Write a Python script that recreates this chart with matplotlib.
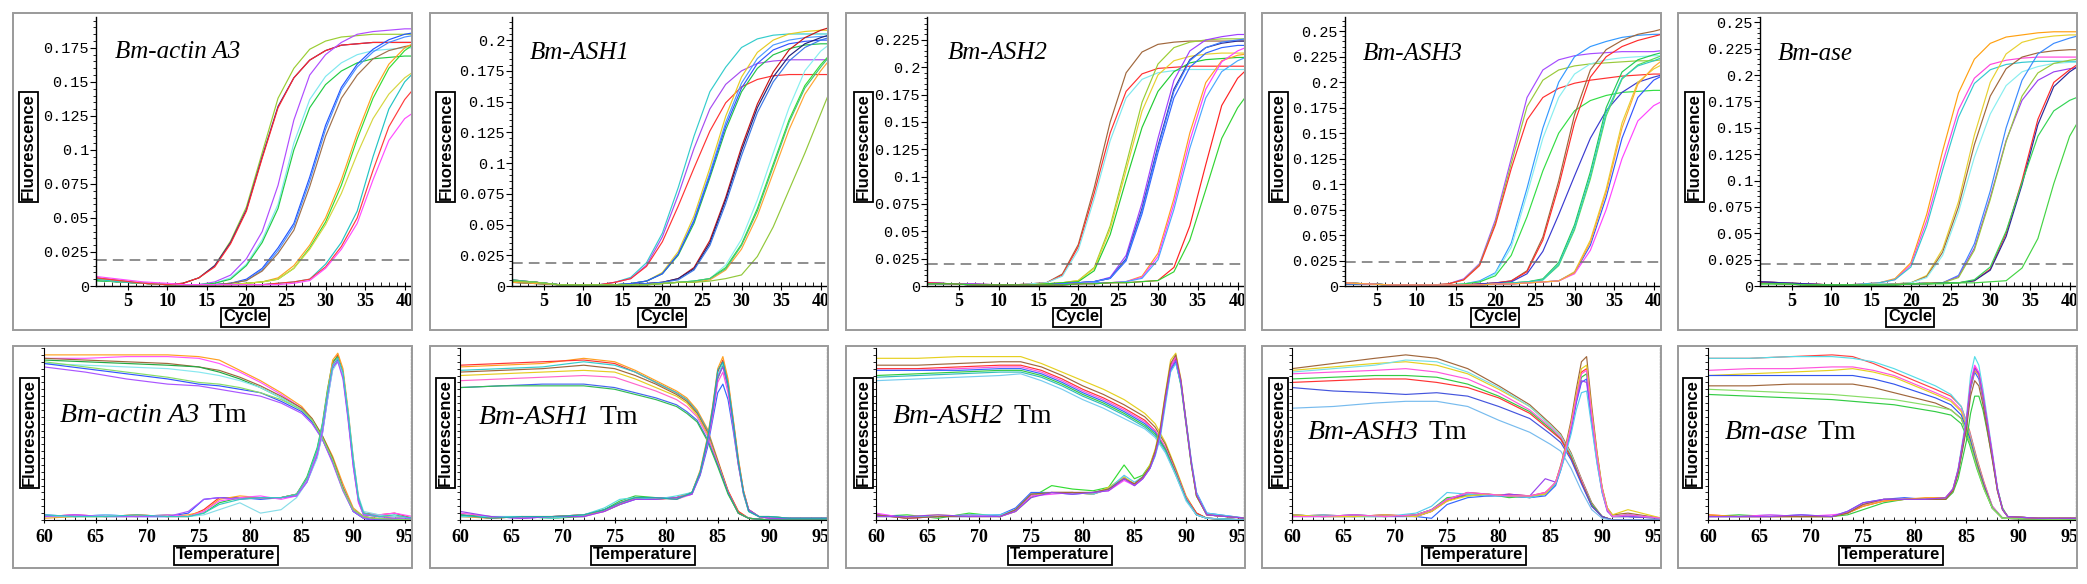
import matplotlib
matplotlib.use('Agg')
import matplotlib.pyplot as plt
from matplotlib.patches import Rectangle
from matplotlib.ticker import MultipleLocator
from matplotlib.transforms import Bbox, TransformedBbox

W, H = 2087, 584

genes = ['Bm-actin A3', 'Bm-ASH1', 'Bm-ASH2', 'Bm-ASH3', 'Bm-ase']

# ---- amplification plots (fluorescence in units of 0.001) ----
cycles = [1, 4, 7, 10, 12, 14, 16, 18, 20, 22, 24, 26, 28, 30, 32, 34, 36, 38, 40, 41]

actin_amp = [
    [4, 3, 2, 1, 2, 6, 15, 33, 58, 98, 138, 160, 174, 180, 183, 184, 185, 185, 185, 185],
    [5, 3, 2, 1, 2, 6, 15, 32, 56, 95, 132, 153, 166, 173, 177, 178, 179, 179, 179, 179],
    [6, 4, 2, 1, 2, 6, 14, 31, 55, 94, 131, 153, 166, 173, 177, 178, 179, 179, 179, 179],
    [5, 3, 2, 1, 1, 1, 3, 8, 20, 40, 74, 122, 155, 170, 179, 185, 187, 188, 189, 189],
    [6, 4, 2, 1, 1, 1, 2, 6, 16, 34, 60, 105, 137, 154, 164, 170, 173, 174, 175, 175],
    [4, 3, 2, 1, 1, 1, 2, 5, 15, 32, 57, 100, 131, 148, 158, 164, 167, 168, 169, 169],
    [5, 3, 2, 1, 1, 1, 1, 2, 5, 13, 28, 46, 80, 118, 146, 163, 174, 181, 185, 186],
    [4, 3, 2, 1, 1, 1, 1, 2, 4, 12, 26, 44, 77, 115, 144, 161, 172, 179, 183, 184],
    [6, 4, 2, 1, 1, 1, 1, 2, 4, 11, 24, 41, 73, 110, 138, 155, 167, 173, 176, 177],
    [5, 3, 2, 1, 1, 1, 1, 1, 2, 3, 6, 15, 30, 50, 78, 112, 142, 163, 175, 178],
    [4, 3, 2, 1, 1, 1, 1, 1, 2, 3, 5, 13, 28, 47, 74, 108, 138, 160, 173, 177],
    [5, 3, 2, 1, 1, 1, 1, 1, 2, 3, 5, 13, 27, 45, 68, 97, 123, 141, 153, 157],
    [5, 3, 2, 1, 1, 1, 1, 1, 1, 1, 2, 3, 5, 16, 32, 55, 95, 130, 150, 156],
    [6, 4, 2, 1, 1, 1, 1, 1, 1, 1, 2, 3, 5, 14, 29, 50, 85, 117, 137, 144],
    [7, 5, 3, 2, 1, 1, 1, 1, 1, 1, 1, 2, 4, 13, 27, 46, 78, 107, 123, 127],
]
actin_amp_colors = ['#9acd32', '#3a1f8f', '#ff2a2a', '#b04cff', '#7fe8f0', '#22cc44', '#2255ff', '#4a8cff',
                    '#a0704a', '#ffa21f', '#33dd33', '#d6d640', '#22c4c4', '#ff3b3b', '#ff4cff']

ash1_amp = [
    [4, 3, 1, 1, 1, 3, 7, 19, 43, 80, 122, 158, 178, 194, 201, 204, 205, 205, 205, 205],
    [5, 3, 1, 1, 1, 3, 6, 17, 40, 74, 112, 144, 164, 175, 181, 183, 184, 184, 184, 184],
    [4, 3, 1, 1, 1, 3, 6, 16, 36, 65, 96, 126, 149, 162, 168, 171, 172, 172, 172, 172],
    [5, 3, 1, 1, 1, 1, 2, 4, 11, 28, 57, 96, 138, 170, 190, 200, 205, 207, 208, 208],
    [4, 3, 1, 1, 1, 1, 2, 4, 10, 26, 54, 92, 133, 165, 185, 196, 200, 202, 203, 203],
    [3, 2, 1, 1, 1, 1, 2, 4, 10, 25, 51, 88, 127, 158, 177, 188, 193, 196, 197, 197],
    [4, 3, 1, 1, 1, 1, 2, 4, 10, 26, 53, 90, 130, 161, 181, 192, 197, 199, 200, 200],
    [4, 3, 1, 1, 1, 1, 1, 2, 3, 6, 15, 37, 72, 113, 148, 174, 192, 202, 208, 210],
    [3, 2, 1, 1, 1, 1, 1, 2, 3, 6, 14, 35, 70, 110, 145, 170, 187, 197, 202, 204],
    [5, 3, 1, 1, 1, 1, 1, 2, 3, 5, 13, 33, 67, 106, 141, 166, 183, 194, 200, 202],
    [4, 3, 1, 1, 1, 1, 1, 1, 2, 3, 4, 6, 17, 38, 70, 108, 145, 175, 191, 196],
    [4, 3, 1, 1, 1, 1, 1, 1, 2, 3, 4, 6, 15, 34, 63, 99, 135, 163, 180, 187],
    [3, 2, 1, 1, 1, 1, 1, 1, 2, 3, 3, 5, 13, 30, 57, 92, 127, 156, 175, 183],
    [5, 3, 1, 1, 1, 1, 1, 1, 2, 3, 4, 6, 14, 33, 61, 97, 133, 161, 178, 186],
    [4, 3, 1, 1, 1, 1, 1, 1, 2, 3, 3, 4, 6, 9, 24, 48, 78, 108, 140, 156],
]
ash1_amp_colors = ['#33cccc', '#a64cf0', '#ff3333', '#e6cc22', '#4d99ff', '#22c24a', '#3355ff', '#c81414',
                   '#22227a', '#3a78e8', '#88f0f0', '#33e033', '#ffa533', '#44c47a', '#92c83a']

ash2_amp = [
    [3, 2, 2, 1, 1, 2, 3, 11, 38, 90, 150, 195, 214, 221, 223, 224, 224, 224, 224, 224],
    [2, 2, 1, 1, 1, 2, 3, 10, 36, 85, 140, 178, 194, 199, 200, 201, 201, 201, 201, 201],
    [3, 2, 1, 1, 1, 2, 3, 9, 33, 80, 133, 172, 189, 195, 197, 198, 198, 198, 198, 198],
    [3, 2, 1, 1, 1, 1, 2, 3, 5, 17, 55, 111, 168, 203, 218, 223, 225, 226, 226, 226],
    [3, 2, 1, 1, 1, 1, 2, 3, 5, 16, 52, 106, 160, 193, 206, 210, 212, 213, 213, 213],
    [2, 2, 1, 1, 1, 1, 2, 3, 4, 14, 47, 97, 145, 178, 196, 204, 207, 208, 209, 209],
    [3, 2, 2, 1, 1, 1, 1, 2, 3, 4, 8, 28, 76, 135, 188, 215, 225, 228, 230, 230],
    [2, 2, 1, 1, 1, 1, 1, 2, 3, 4, 7, 25, 71, 128, 180, 207, 218, 222, 224, 224],
    [3, 2, 1, 1, 1, 1, 1, 2, 3, 4, 7, 23, 66, 122, 172, 200, 213, 218, 220, 220],
    [3, 2, 1, 1, 1, 1, 1, 2, 3, 4, 7, 24, 69, 126, 178, 206, 218, 223, 225, 226],
    [2, 2, 1, 1, 1, 1, 1, 1, 2, 3, 3, 4, 9, 30, 80, 140, 186, 206, 211, 212],
    [3, 2, 1, 1, 1, 1, 1, 1, 2, 3, 3, 4, 8, 27, 75, 133, 180, 205, 215, 218],
    [2, 2, 1, 1, 1, 1, 1, 1, 2, 3, 3, 4, 7, 24, 70, 126, 172, 196, 206, 209],
    [3, 2, 1, 1, 1, 1, 1, 1, 2, 2, 3, 3, 4, 5, 17, 55, 111, 165, 190, 197],
    [2, 2, 1, 1, 1, 1, 1, 1, 2, 2, 3, 3, 4, 5, 13, 42, 88, 135, 163, 173],
]
ash2_amp_colors = ['#a0673c', '#ff3030', '#7fe8ee', '#9acd32', '#e8d030', '#22cc33', '#a040ff', '#2a2a9a',
                   '#3366ff', '#4080ff', '#ffa020', '#ff40ff', '#4aa8ff', '#ff2222', '#33d433']

ash3_amp = [
    [3, 2, 1, 1, 1, 2, 7, 22, 65, 125, 185, 212, 222, 226, 228, 229, 230, 230, 230, 231],
    [3, 2, 1, 1, 1, 2, 6, 21, 62, 120, 176, 202, 212, 216, 218, 219, 220, 221, 221, 222],
    [2, 2, 1, 1, 1, 2, 6, 20, 60, 115, 163, 185, 194, 199, 202, 204, 206, 207, 208, 208],
    [3, 2, 1, 1, 1, 1, 2, 5, 13, 42, 96, 155, 200, 225, 235, 240, 244, 246, 247, 247],
    [2, 2, 1, 1, 1, 1, 2, 4, 12, 38, 90, 145, 185, 208, 218, 222, 224, 225, 226, 226],
    [3, 2, 1, 1, 1, 1, 2, 4, 10, 30, 68, 113, 150, 172, 182, 187, 190, 191, 192, 192],
    [3, 2, 1, 1, 1, 1, 1, 2, 3, 5, 15, 48, 103, 168, 212, 232, 241, 247, 250, 252],
    [3, 2, 1, 1, 1, 1, 1, 2, 3, 5, 14, 45, 98, 160, 205, 225, 235, 241, 245, 247],
    [2, 2, 1, 1, 1, 1, 1, 2, 3, 4, 12, 34, 70, 108, 145, 172, 190, 200, 205, 207],
    [3, 2, 1, 1, 1, 1, 1, 1, 2, 3, 4, 7, 23, 60, 112, 175, 210, 222, 227, 229],
    [2, 2, 1, 1, 1, 1, 1, 1, 2, 3, 4, 6, 20, 55, 105, 167, 203, 217, 223, 226],
    [3, 2, 1, 1, 1, 1, 1, 1, 2, 3, 4, 6, 21, 57, 108, 170, 204, 216, 221, 224],
    [3, 2, 1, 1, 1, 1, 1, 1, 2, 2, 3, 4, 5, 14, 45, 95, 160, 200, 213, 217],
    [2, 2, 1, 1, 1, 1, 1, 1, 2, 2, 3, 4, 5, 13, 40, 87, 145, 185, 202, 206],
    [3, 2, 1, 1, 1, 1, 1, 1, 2, 2, 3, 4, 5, 12, 35, 75, 125, 162, 177, 181],
    [3, 2, 1, 1, 1, 1, 1, 1, 2, 2, 3, 4, 5, 13, 43, 92, 155, 198, 215, 221],
]
ash3_amp_colors = ['#a64cff', '#99c93a', '#ff3030', '#3399ff', '#88eef0', '#33dd44', '#a0673c', '#ff2a2a',
                   '#3a3ad0', '#22cc55', '#55e055', '#33c8c0', '#e6d030', '#3355ff', '#ff44ff', '#ffaa33']

ase_amp = [
    [4, 3, 2, 1, 1, 2, 3, 7, 22, 68, 128, 183, 215, 230, 236, 238, 240, 241, 241, 241],
    [3, 2, 2, 1, 1, 2, 3, 6, 20, 62, 117, 167, 197, 210, 214, 216, 217, 217, 217, 217],
    [3, 2, 1, 1, 1, 2, 3, 6, 18, 57, 110, 160, 192, 205, 210, 212, 213, 213, 213, 213],
    [3, 2, 2, 1, 1, 1, 2, 2, 3, 10, 35, 80, 143, 193, 220, 231, 235, 237, 238, 238],
    [4, 3, 2, 1, 1, 1, 2, 2, 3, 9, 32, 75, 134, 180, 206, 217, 221, 223, 224, 224],
    [3, 2, 1, 1, 1, 1, 2, 2, 3, 8, 29, 70, 122, 163, 190, 203, 208, 211, 212, 212],
    [3, 2, 1, 1, 1, 1, 1, 2, 2, 3, 3, 10, 40, 90, 150, 195, 220, 230, 235, 237],
    [4, 3, 2, 1, 1, 1, 1, 2, 2, 3, 3, 9, 36, 84, 138, 176, 195, 203, 206, 207],
    [3, 2, 1, 1, 1, 1, 1, 2, 2, 3, 3, 8, 34, 82, 137, 180, 202, 211, 214, 215],
    [3, 2, 1, 1, 1, 1, 1, 1, 2, 2, 3, 3, 5, 16, 50, 100, 158, 193, 205, 210],
    [4, 3, 2, 1, 1, 1, 1, 1, 2, 2, 3, 3, 5, 15, 47, 96, 153, 189, 203, 208],
    [2, 2, 1, 1, 1, 1, 1, 1, 2, 2, 3, 3, 6, 18, 52, 98, 142, 166, 176, 179],
    [2, 2, 1, 1, 1, 1, 1, 1, 2, 2, 2, 3, 3, 4, 5, 17, 45, 97, 142, 155],
]
ase_amp_colors = ['#ffa010', '#ff44dd', '#33c8d0', '#e8d030', '#a0673c', '#88eef0', '#3a8aff', '#9a40f0',
                  '#99c93a', '#ff2a2a', '#2a2a9a', '#33d455', '#44d444']

thresholds = [19, 19, 20, 24, 21]
amp_ymax = [197.7, 218.8, 246, 264, 255]
ytick_vals = [0, 25, 50, 75, 100, 125, 150, 175, 200, 225, 250]
ytick_text = ['0', '0.025', '0.05', '0.075', '0.1', '0.125', '0.15', '0.175', '0.2', '0.225', '0.25']
xtick_cycles = [5, 10, 15, 20, 25, 30, 35, 40]

# ---- melt plots (relative fluorescence 0-100) ----
actin_melt_t = [60, 64, 68, 72, 75, 77, 79, 81, 83, 85, 86, 87, 88, 89, 90, 91, 92, 95.8]
actin_melt = [
    [96, 96, 96, 96, 95, 93, 87, 81, 74, 66, 59, 49, 37, 21, 7, 2, 1, 0],
    [94, 94, 95, 95, 94, 91, 86, 80, 73, 65, 58, 48, 35, 19, 6, 2, 1, 0],
    [94, 93, 92, 91, 89, 87, 83, 78, 72, 65, 59, 49, 36, 19, 6, 2, 1, 0],
    [93, 92, 91, 90, 89, 86, 82, 77, 71, 64, 58, 48, 35, 18, 5, 1, 0, 0],
    [91, 90, 89, 88, 86, 84, 81, 77, 71, 64, 58, 47, 34, 17, 5, 1, 0, 0],
    [91, 88, 85, 82, 79, 78, 76, 74, 69, 63, 57, 47, 34, 18, 5, 1, 0, 0],
    [89, 86, 82, 79, 78, 76, 74, 72, 68, 62, 56, 47, 33, 17, 5, 1, 0, 0],
    [92, 89, 86, 83, 80, 79, 77, 74, 70, 64, 58, 48, 35, 18, 6, 2, 1, 0],
]
actin_melt_colors = ['#ffa020', '#ff55ff', '#a0673c', '#22aa44', '#88e8f0', '#3355ff', '#aa55ff', '#88dd66']
actin_peak_t = [60, 63, 66, 69, 72, 74, 75.5, 77, 79, 81, 83, 84.5, 85.5, 86.5, 87, 87.5, 88, 88.5, 89, 89.5,
                90, 90.5, 91, 92.5, 94, 95.8]
actin_peak = [
    [2, 3, 2, 3, 2, 2, 6, 13, 13, 13, 13, 15, 24, 40, 54, 74, 91, 96, 86, 62, 34, 12, 4, 3, 4, 1],
    [3, 2, 3, 2, 2, 4, 12, 13, 13, 12, 13, 14, 22, 37, 50, 70, 88, 93, 84, 60, 33, 12, 4, 2, 2, 1],
    [2, 2, 2, 2, 3, 2, 4, 10, 13, 13, 13, 15, 25, 42, 56, 76, 92, 95, 85, 61, 33, 11, 3, 2, 2, 1],
    [1, 2, 2, 3, 2, 3, 5, 12, 14, 13, 13, 15, 24, 40, 55, 75, 93, 97, 88, 64, 36, 13, 4, 2, 2, 1],
    [2, 3, 2, 2, 3, 2, 5, 11, 13, 14, 12, 14, 23, 39, 53, 73, 90, 94, 84, 59, 31, 10, 3, 3, 4, 2],
    [2, 2, 3, 2, 2, 2, 3, 6, 10, 4, 6, 13, 22, 36, 50, 70, 87, 92, 85, 63, 36, 14, 5, 3, 2, 1],
    [2, 3, 2, 2, 2, 5, 12, 13, 12, 13, 13, 14, 22, 38, 51, 72, 89, 92, 82, 58, 31, 11, 3, 2, 1, 1],
    [3, 2, 2, 3, 2, 2, 4, 9, 12, 13, 13, 15, 24, 41, 55, 74, 90, 94, 86, 62, 35, 13, 4, 2, 3, 1],
]
actin_peak_colors = ['#ff2a2a', '#3355ff', '#22cc44', '#ffa020', '#ff55ff', '#88dde8', '#aa55ff', '#33c8c0']

ash1_melt_t = [60, 64, 68, 72, 75, 77, 79, 81, 82, 83, 84, 85, 86, 87, 88, 90, 95.8]
ash1_melt = [
    [89, 90, 91, 94, 92, 87, 81, 75, 71, 64, 53, 35, 17, 5, 1, 0, 0],
    [90, 91, 92, 93, 91, 86, 80, 74, 70, 63, 52, 34, 17, 5, 1, 0, 0],
    [87, 88, 89, 92, 90, 86, 80, 74, 70, 63, 52, 34, 16, 4, 1, 0, 0],
    [86, 87, 88, 90, 88, 84, 79, 73, 69, 62, 51, 34, 16, 4, 1, 0, 0],
    [84, 85, 86, 87, 86, 82, 77, 72, 68, 61, 50, 33, 16, 4, 1, 0, 0],
    [81, 82, 83, 84, 83, 79, 75, 70, 66, 60, 49, 33, 16, 4, 1, 0, 0],
    [77, 78, 79, 79, 77, 74, 71, 67, 63, 58, 47, 32, 16, 4, 1, 0, 0],
    [77, 78, 78, 78, 76, 73, 70, 66, 62, 57, 46, 31, 15, 4, 1, 0, 0],
]
ash1_melt_colors = ['#ffa020', '#ff3333', '#33cccc', '#a0673c', '#e6cc22', '#ff66cc', '#4466ee', '#33bb55']
ash1_peak_t = [60, 63, 66, 69, 72, 74, 75.5, 77, 79, 81, 82.5, 83.3, 84, 84.5, 85, 85.5, 86, 86.5, 87, 87.5,
               88, 89, 90, 92, 94, 95.8]
ash1_peak = [
    [3, 1, 2, 2, 3, 6, 10, 13, 12, 13, 16, 28, 46, 64, 86, 93, 80, 58, 35, 17, 6, 2, 2, 1, 1, 1],
    [2, 2, 1, 2, 3, 5, 9, 12, 13, 13, 15, 26, 42, 58, 74, 79, 70, 52, 32, 16, 6, 2, 1, 1, 1, 1],
    [3, 2, 2, 1, 2, 6, 11, 14, 13, 12, 16, 27, 45, 62, 82, 90, 78, 56, 33, 15, 5, 2, 2, 1, 1, 1],
    [2, 1, 2, 2, 3, 5, 9, 13, 12, 13, 16, 29, 48, 66, 88, 95, 82, 59, 36, 17, 6, 2, 1, 1, 1, 1],
    [4, 2, 1, 2, 2, 5, 10, 12, 13, 12, 15, 27, 44, 60, 80, 86, 74, 54, 32, 15, 5, 2, 1, 1, 1, 1],
    [2, 2, 2, 1, 3, 7, 12, 13, 12, 14, 16, 28, 46, 63, 84, 91, 79, 57, 34, 16, 5, 2, 2, 1, 1, 1],
    [5, 2, 1, 2, 2, 5, 9, 12, 12, 13, 15, 27, 45, 62, 83, 89, 77, 56, 33, 16, 6, 2, 1, 1, 1, 1],
    [3, 1, 2, 2, 3, 6, 10, 13, 13, 12, 16, 28, 47, 65, 87, 92, 79, 57, 34, 16, 5, 2, 2, 1, 1, 1],
]
ash1_peak_colors = ['#ff2222', '#3366ff', '#33cc44', '#ffa020', '#ff55dd', '#55dddd', '#9944ee', '#22aaaa']

ash2_melt_t = [60, 64, 68, 72, 74, 76, 78, 80, 82, 84, 86, 87, 88, 89, 90, 91, 92, 95.8]
ash2_melt = [
    [94, 94, 95, 95, 95, 91, 86, 81, 76, 70, 62, 56, 45, 30, 14, 4, 1, 0],
    [90, 90, 91, 92, 92, 89, 84, 78, 73, 67, 60, 54, 44, 29, 13, 4, 1, 0],
    [88, 88, 89, 90, 90, 87, 82, 76, 71, 65, 58, 52, 42, 28, 13, 4, 1, 0],
    [87, 87, 88, 89, 89, 86, 81, 75, 70, 64, 57, 52, 42, 28, 13, 3, 1, 0],
    [87, 87, 87, 88, 88, 85, 80, 74, 69, 63, 56, 51, 41, 27, 12, 3, 1, 0],
    [84, 85, 86, 87, 87, 84, 79, 73, 68, 62, 55, 50, 41, 27, 12, 3, 1, 0],
    [83, 84, 85, 86, 86, 83, 78, 72, 67, 61, 54, 49, 40, 26, 12, 3, 1, 0],
    [81, 82, 83, 84, 85, 81, 76, 70, 65, 59, 53, 48, 39, 26, 11, 3, 1, 0],
]
ash2_melt_colors = ['#e6d020', '#a0673c', '#ff3333', '#ff55dd', '#3366ff', '#33cc44', '#33bbbb', '#77ccf0']
ash2_peak_t = [60, 63, 66, 69, 72, 73.5, 75, 77, 79, 81, 82.5, 84, 85, 85.8, 86.5, 87, 87.5, 88, 88.5, 89,
               89.5, 90, 90.5, 91, 92, 95.8]
ash2_peak = [
    [3, 1, 2, 3, 2, 6, 15, 16, 16, 15, 18, 24, 21, 25, 31, 39, 52, 72, 90, 94, 80, 56, 33, 15, 3, 1],
    [2, 3, 1, 4, 2, 5, 13, 20, 18, 17, 19, 32, 24, 26, 32, 40, 51, 71, 88, 92, 78, 55, 32, 14, 3, 1],
    [3, 2, 2, 2, 3, 7, 16, 16, 15, 16, 18, 25, 20, 24, 30, 38, 50, 69, 87, 92, 79, 57, 34, 16, 4, 1],
    [2, 2, 3, 2, 2, 5, 14, 16, 16, 15, 19, 25, 21, 25, 32, 41, 54, 74, 93, 97, 82, 57, 33, 14, 3, 1],
    [4, 1, 2, 3, 2, 5, 14, 15, 16, 16, 17, 23, 20, 24, 30, 38, 50, 70, 89, 95, 81, 57, 34, 15, 3, 1],
    [2, 2, 2, 3, 3, 6, 15, 16, 16, 15, 18, 26, 22, 25, 30, 37, 48, 67, 86, 91, 79, 58, 35, 16, 4, 1],
    [3, 1, 2, 2, 2, 6, 15, 16, 16, 16, 18, 24, 21, 25, 31, 40, 53, 73, 91, 96, 81, 57, 33, 14, 3, 1],
    [2, 2, 3, 2, 2, 5, 13, 16, 15, 16, 17, 24, 20, 24, 30, 38, 50, 70, 88, 93, 80, 56, 33, 15, 3, 1],
]
ash2_peak_colors = ['#ff2222', '#33dd33', '#3366ff', '#e6d020', '#ff44ff', '#55ccee', '#a0673c', '#9944ee']

ash3_melt_t = [60, 64, 68, 71, 74, 77, 80, 83, 85, 86, 87, 88, 89, 90, 91, 95.8]
ash3_melt = [
    [88, 91, 94, 96, 94, 88, 78, 67, 56, 50, 39, 24, 10, 2, 0, 0],
    [87, 89, 91, 92, 90, 85, 76, 66, 55, 49, 38, 23, 9, 2, 0, 0],
    [86, 88, 90, 93, 92, 86, 77, 66, 55, 49, 38, 23, 9, 2, 0, 0],
    [85, 86, 87, 88, 86, 82, 74, 64, 54, 48, 37, 23, 9, 2, 0, 0],
    [82, 83, 84, 84, 83, 79, 72, 63, 53, 47, 37, 22, 9, 2, 0, 0],
    [80, 81, 82, 82, 80, 77, 71, 62, 52, 47, 36, 22, 8, 2, 0, 0],
    [77, 75, 74, 73, 74, 72, 66, 59, 50, 45, 35, 21, 8, 2, 0, 0],
    [65, 66, 68, 69, 69, 66, 58, 51, 44, 40, 30, 17, 6, 1, 0, 0],
]
ash3_melt_colors = ['#a0673c', '#e6d020', '#77e0e8', '#ff55dd', '#33cc44', '#ff3333', '#4455dd', '#77bbee']
ash3_peak_t = [60, 63, 66, 69, 72, 73.5, 75, 77, 79, 81, 83, 84.5, 85.5, 86, 86.5, 87, 87.5, 88, 88.5, 89,
               89.5, 90, 90.5, 91, 92.5, 95.8]
ash3_peak = [
    [3, 2, 3, 2, 3, 6, 12, 16, 15, 14, 13, 15, 22, 32, 44, 58, 76, 92, 95, 66, 40, 19, 7, 3, 4, 1],
    [2, 3, 2, 3, 2, 5, 11, 15, 14, 15, 14, 16, 21, 30, 42, 55, 72, 86, 88, 62, 38, 18, 6, 2, 3, 1],
    [3, 2, 2, 2, 3, 6, 13, 14, 15, 13, 14, 15, 21, 30, 41, 54, 70, 83, 85, 60, 37, 18, 6, 2, 2, 1],
    [2, 2, 3, 2, 2, 1, 9, 13, 14, 14, 13, 14, 20, 29, 40, 52, 68, 80, 82, 58, 36, 17, 6, 2, 2, 1],
    [3, 2, 2, 3, 2, 5, 12, 15, 14, 15, 14, 24, 22, 30, 41, 53, 69, 81, 80, 56, 34, 16, 5, 2, 2, 1],
    [2, 3, 2, 2, 4, 8, 16, 15, 14, 14, 13, 15, 21, 29, 39, 50, 64, 74, 75, 54, 33, 16, 6, 2, 3, 1],
    [3, 2, 2, 3, 2, 5, 11, 14, 15, 14, 14, 15, 22, 31, 43, 56, 73, 88, 90, 63, 39, 19, 7, 3, 6, 1],
    [2, 2, 3, 2, 3, 6, 12, 16, 15, 14, 14, 16, 22, 31, 42, 55, 71, 85, 87, 61, 37, 18, 6, 2, 3, 1],
]
ash3_peak_colors = ['#a0673c', '#ff3333', '#33cc44', '#3366ff', '#9944ee', '#55ccee', '#e6d020', '#ff55dd']

ase_melt_t = [60, 64, 68, 72, 74, 76, 78, 80, 82, 83.5, 84.5, 85.3, 86, 86.7, 87.5, 88.5, 95.8]
ase_melt = [
    [94, 94, 95, 96, 95, 91, 86, 81, 76, 72, 66, 52, 36, 22, 8, 1, 0],
    [94, 94, 95, 95, 94, 92, 88, 83, 78, 73, 66, 51, 35, 21, 8, 1, 0],
    [87, 88, 88, 89, 89, 87, 84, 79, 74, 70, 64, 50, 34, 21, 8, 1, 0],
    [84, 85, 86, 87, 88, 86, 83, 78, 73, 69, 63, 49, 34, 20, 7, 1, 0],
    [84, 84, 84, 84, 84, 82, 79, 75, 71, 67, 61, 48, 33, 20, 7, 1, 0],
    [78, 78, 79, 79, 79, 77, 74, 71, 68, 64, 59, 46, 32, 19, 7, 1, 0],
    [73, 72, 71, 70, 69, 68, 67, 65, 63, 61, 56, 44, 30, 18, 7, 1, 0],
    [76, 75, 74, 73, 72, 71, 70, 68, 66, 64, 59, 46, 31, 18, 7, 1, 0],
]
ase_melt_colors = ['#ff4444', '#55dde8', '#ff55dd', '#e6d020', '#3355ee', '#a0673c', '#33cc44', '#88dd66']
ase_peak_t = [60, 63, 66, 69, 72, 73.5, 75, 77, 79, 81, 83, 83.7, 84.2, 84.6, 85, 85.4, 85.8, 86.2, 86.6, 87,
              87.5, 88, 88.5, 89, 92, 95.8]
ase_peak = [
    [2, 2, 3, 2, 2, 4, 9, 12, 12, 12, 13, 18, 30, 45, 60, 84, 95, 90, 76, 60, 40, 19, 6, 2, 1, 1],
    [3, 2, 2, 2, 2, 4, 8, 11, 12, 12, 13, 18, 29, 43, 57, 79, 89, 85, 72, 57, 38, 18, 6, 2, 1, 1],
    [2, 2, 2, 3, 2, 5, 10, 12, 13, 12, 13, 17, 28, 41, 55, 76, 86, 82, 70, 55, 37, 17, 6, 2, 1, 1],
    [2, 3, 2, 2, 2, 3, 6, 10, 12, 12, 12, 16, 24, 35, 46, 62, 72, 72, 64, 52, 36, 18, 7, 2, 1, 1],
    [2, 2, 3, 2, 3, 4, 9, 12, 12, 12, 13, 18, 29, 43, 58, 80, 90, 86, 73, 58, 39, 18, 6, 2, 1, 1],
    [3, 2, 2, 2, 2, 4, 8, 11, 12, 13, 13, 17, 28, 42, 56, 77, 87, 84, 71, 56, 37, 17, 6, 2, 1, 1],
    [2, 2, 2, 2, 2, 4, 9, 12, 12, 12, 12, 17, 27, 40, 53, 72, 81, 78, 67, 53, 35, 17, 6, 2, 1, 1],
    [2, 2, 2, 3, 2, 5, 10, 12, 12, 12, 13, 18, 29, 43, 57, 78, 88, 85, 72, 57, 38, 18, 6, 2, 1, 1],
]
ase_peak_colors = ['#55dde8', '#ff3333', '#3366ff', '#33cc44', '#ff44ff', '#ffa020', '#a0673c', '#9944ee']

xtick_temps = [60, 65, 70, 75, 80, 85, 90, 95]

amp_sets = [actin_amp, ash1_amp, ash2_amp, ash3_amp, ase_amp]
amp_color_sets = [actin_amp_colors, ash1_amp_colors, ash2_amp_colors, ash3_amp_colors, ase_amp_colors]
melt_t_sets = [actin_melt_t, ash1_melt_t, ash2_melt_t, ash3_melt_t, ase_melt_t]
melt_sets = [actin_melt, ash1_melt, ash2_melt, ash3_melt, ase_melt]
melt_color_sets = [actin_melt_colors, ash1_melt_colors, ash2_melt_colors, ash3_melt_colors, ase_melt_colors]
peak_t_sets = [actin_peak_t, ash1_peak_t, ash2_peak_t, ash3_peak_t, ase_peak_t]
peak_sets = [actin_peak, ash1_peak, ash2_peak, ash3_peak, ase_peak]
peak_color_sets = [actin_peak_colors, ash1_peak_colors, ash2_peak_colors, ash3_peak_colors, ase_peak_colors]

# layout in pixels of the reference
box_x = [(13, 412), (430, 828), (846, 1245), (1262, 1661), (1678, 2077)]
top_box_y = (13, 330)
bot_box_y = (346, 568)
top_ax_left = [96, 512, 927, 1345, 1760]
top_ax_y = (17, 286)
bot_ax_left = [44, 460, 876, 1292, 1708]
bot_ax_y = (348, 520)
top_title_pos = [(115, 58), (530, 59), (948, 59), (1363, 60), (1778, 60)]
bot_title_pos = [(60, 422), (479, 424), (893, 423), (1308, 439), (1725, 439)]
fluo_top_x = [28, 446, 863, 1278, 1694]
fluo_bot_x = [29, 445, 863, 1278, 1692]
cycle_x = [245, 662, 1077, 1495, 1910]
temp_x = [226, 643, 1060, 1474, 1891]

SERIF = 'Liberation Serif'
SANS = 'Liberation Sans'
MONO = 'Liberation Mono'


def fx(px):
    return px / W


def fy(py):
    return 1 - py / H


def boxed_label(x, y, text, rot=0):
    fig.text(fx(x), fy(y), text, rotation=rot, ha='center', va='center', fontsize=12,
             fontweight='bold', family=SANS,
             bbox=dict(boxstyle='square,pad=0.12', fc='white', ec='black', lw=1.3))


def clip_labels(labels, x0, x1, y0, y1):
    # tick labels are cut at the panel frame, as in the source figure
    clip = TransformedBbox(Bbox([[fx(x0), fy(y1)], [fx(x1), fy(y0)]]), fig.transFigure)
    for lbl in labels:
        lbl.set_clip_box(clip)
        lbl.set_clip_on(True)


fig = plt.figure(figsize=(W / 100, H / 100), dpi=100)
fig.patch.set_facecolor('white')

for i in range(5):
    x0, x1 = box_x[i]
    # panel frames
    for (y0, y1) in (top_box_y, bot_box_y):
        fig.add_artist(Rectangle((fx(x0), fy(y1)), (x1 - x0) / W, (y1 - y0) / H,
                                 transform=fig.transFigure, fill=False, ec='#9a9a9a', lw=1.4))

    # ---- amplification plot ----
    l = top_ax_left[i]
    ax = fig.add_axes([fx(l), fy(top_ax_y[1]), (x1 - 1 - l) / W, (top_ax_y[1] - top_ax_y[0]) / H])
    for vals, col in zip(amp_sets[i], amp_color_sets[i]):
        ax.plot(cycles, vals, color=col, lw=0.85)
    ax.axhline(thresholds[i], color='#707070', lw=1.1, ls=(0, (7, 4)))
    ax.set_xlim(1, 40.8)
    ax.set_ylim(0, amp_ymax[i])
    ax.set_xticks(xtick_cycles)
    ax.set_xticklabels([str(c) for c in xtick_cycles], fontsize=13, fontweight='bold', family=SERIF)
    ax.xaxis.set_minor_locator(MultipleLocator(1))
    yt = [v for v in ytick_vals if v <= amp_ymax[i]]
    ax.set_yticks(yt)
    ax.set_yticklabels(ytick_text[:len(yt)], fontsize=11, family=MONO)
    ax.yaxis.set_minor_locator(MultipleLocator(5))
    ax.tick_params(axis='y', which='major', direction='out', length=4, width=0.8, pad=1)
    ax.tick_params(axis='y', which='minor', direction='out', length=2, width=0.6)
    ax.tick_params(axis='x', which='major', direction='inout', length=6, width=0.8, pad=2)
    ax.tick_params(axis='x', which='minor', direction='in', length=3, width=0.6)
    for s in ('top', 'right'):
        ax.spines[s].set_visible(False)
    for s in ('left', 'bottom'):
        ax.spines[s].set_linewidth(1.0)
    ax.patch.set_alpha(0)
    clip_labels(ax.get_xticklabels(), x0, x1 - 1, top_box_y[0], top_box_y[1])

    tx, ty = top_title_pos[i]
    fig.text(fx(tx), fy(ty), genes[i], style='italic', family=SERIF, fontsize=18, va='baseline')
    boxed_label(fluo_top_x[i], 147, 'Fluorescence', rot=90)
    boxed_label(cycle_x[i], 317, 'Cycle')

    # ---- melt plot ----
    l = bot_ax_left[i]
    bx = fig.add_axes([fx(l), fy(bot_ax_y[1]), (x1 - 1 - l) / W, (bot_ax_y[1] - bot_ax_y[0]) / H])
    for vals, col in zip(melt_sets[i], melt_color_sets[i]):
        bx.plot(melt_t_sets[i], vals, color=col, lw=0.85)
    for vals, col in zip(peak_sets[i], peak_color_sets[i]):
        bx.plot(peak_t_sets[i], vals, color=col, lw=0.85)
    bx.set_xlim(60, 95.6)
    bx.set_ylim(0, 100)
    bx.set_xticks(xtick_temps)
    bx.set_xticklabels([str(t) for t in xtick_temps], fontsize=13, fontweight='bold', family=SERIF)
    bx.xaxis.set_minor_locator(MultipleLocator(1))
    bx.set_yticks(list(range(0, 101, 4)))
    bx.set_yticklabels([])
    bx.tick_params(axis='y', which='major', direction='out', length=2, width=0.6)
    bx.tick_params(axis='x', which='major', direction='inout', length=5, width=0.8, pad=4)
    bx.tick_params(axis='x', which='minor', direction='in', length=2.5, width=0.6)
    bx.spines['top'].set_visible(False)
    bx.spines['right'].set_color('#999999')
    bx.spines['right'].set_linestyle((0, (1, 1.5)))
    bx.spines['right'].set_linewidth(1.0)
    bx.patch.set_alpha(0)
    clip_labels(bx.get_xticklabels(), x0, x1 - 1, bot_box_y[0], bot_box_y[1])

    tx, ty = bot_title_pos[i]
    t = fig.text(fx(tx), fy(ty), genes[i], style='italic', family=SERIF, fontsize=20, va='baseline')
    bx.annotate('Tm', xy=(1, 0), xycoords=t, xytext=(7, 0), textcoords='offset points',
                ha='left', va='bottom', family=SERIF, fontsize=20, annotation_clip=False)
    boxed_label(fluo_bot_x[i], 433, 'Fluorescence', rot=90)
    boxed_label(temp_x[i], 555, 'Temperature')

fig.savefig('out.png', dpi=100, facecolor='white')
